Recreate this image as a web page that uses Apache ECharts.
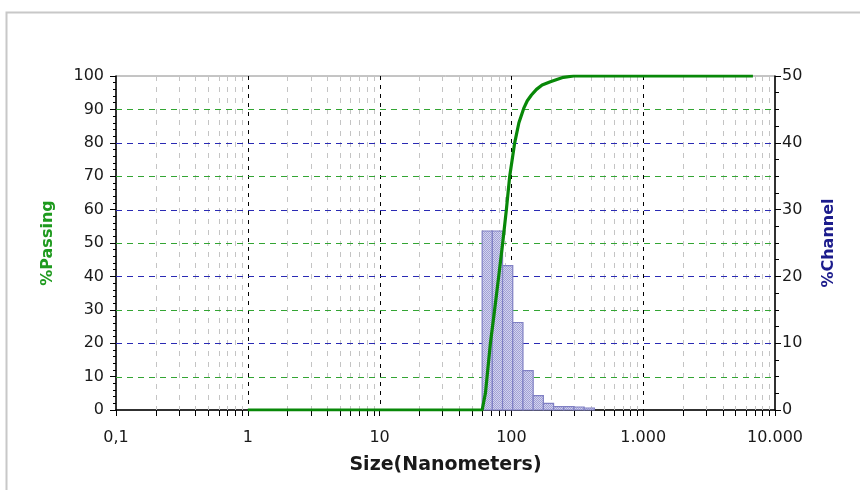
<!DOCTYPE html>
<html>
<head>
<meta charset="utf-8">
<script src="https://cdn.jsdelivr.net/npm/echarts@6/dist/echarts.min.js"></script>
<style>
  html, body { margin: 0; padding: 0; background: #fff; }
  #chart { width: 860px; height: 490px; }
</style>
</head>
<body>
<div id="chart"></div>
<script>
// histogram bins (nm) and %Channel heights
var binEdges = [60, 71.7, 85.7, 102.4, 122.4, 146.3, 174.8, 208.9, 249.6, 298.3, 356.5, 426];
var channelValues = [26.8, 26.8, 21.6, 13.1, 5.9, 2.15, 1.0, 0.5, 0.5, 0.45, 0.3];

// cumulative %Passing curve
var passSizes = [1, 60, 61, 63.5, 65.4, 69.3, 74.3, 80.1, 85.9, 91.6, 97.1, 105.9, 114, 124, 132, 141.9, 155, 171, 197.6, 248, 297, 6800];
var passValues = [0, 0, 0.5, 5, 10, 20, 29.4, 40, 50, 60, 70, 80, 86, 90.3, 92.6, 94.3, 96, 97.3, 98.3, 99.6, 100, 100];

var xTickLabels = ['0,1', '1', '10', '100', '1.000', '10.000'];
var decades = [0.1, 1, 10, 100, 1000];
var majorGridX = [1, 10, 100, 1000];
var minorSteps = [2, 3, 4, 5, 6, 7, 8, 9];
var gridY = [10, 20, 30, 40, 50, 60, 70, 80, 90];

var minorTicks = [];
decades.forEach(function (d) {
  minorSteps.forEach(function (m) {
    minorTicks.push([+(d * m).toPrecision(3), 0]);
  });
});

var bars = channelValues.map(function (v, i) {
  return [binEdges[i], binEdges[i + 1], v];
});
var passData = passSizes.map(function (s, i) { return [s, passValues[i]]; });

// dotted fill like the original hatch
var pat = document.createElement('canvas');
pat.width = 2; pat.height = 2;
var pctx = pat.getContext('2d');
pctx.fillStyle = '#d4d4ee';
pctx.fillRect(0, 0, 2, 2);
pctx.fillStyle = '#a0a0d6';
pctx.fillRect(0, 0, 1, 1);
pctx.fillRect(1, 1, 1, 1);

var chart = echarts.init(document.getElementById('chart'));
var FONT = 'DejaVu Sans, Verdana, sans-serif';
var labelFont = {color: '#1a1a1a', fontSize: 16, fontFamily: FONT};

function snap(v) { return Math.round(v) + 0.5; }

var option = {
  animation: false,
  graphic: [{
    type: 'rect',
    shape: {x: 6.5, y: 12.5, width: 900, height: 600},
    style: {fill: 'none', stroke: '#c8c8c8', lineWidth: 2},
    silent: true
  }],
  grid: {
    left: 116, right: 85, top: 76, bottom: 80,
    show: true, borderColor: '#8a8a8a', borderWidth: 1
  },
  xAxis: {
    type: 'log',
    logBase: 10,
    min: 0.1,
    max: 10000,
    name: 'Size(Nanometers)',
    nameLocation: 'middle',
    nameGap: 46,
    nameTextStyle: {color: '#1a1a1a', fontSize: 19, fontWeight: 'bold', fontFamily: FONT},
    axisLine: {lineStyle: {color: '#000', width: 1.5}},
    axisTick: {show: true, length: 6, lineStyle: {color: '#000'}},
    axisLabel: Object.assign({
      margin: 20,
      formatter: function (v, i) { return xTickLabels[i]; }
    }, labelFont),
    splitLine: {show: false},
    minorTick: {show: false},
    minorSplitLine: {show: false}
  },
  yAxis: [{
    type: 'value',
    min: 0, max: 100, interval: 10,
    name: '%Passing',
    nameLocation: 'middle',
    nameGap: 60,
    nameTextStyle: {color: '#1e9a1e', fontSize: 16, fontWeight: 'bold', fontFamily: FONT},
    axisLine: {show: true, lineStyle: {color: '#000', width: 1.5}},
    axisTick: {show: true, length: 6, lineStyle: {color: '#000'}},
    minorTick: {show: true, splitNumber: 5, length: 3, lineStyle: {color: '#000'}},
    axisLabel: Object.assign({margin: 12}, labelFont),
    splitLine: {show: false}
  }, {
    type: 'value',
    min: 0, max: 50, interval: 10,
    name: '%Channel',
    nameLocation: 'middle',
    nameGap: 46,
    nameTextStyle: {color: '#1c1c8c', fontSize: 16, fontWeight: 'bold', fontFamily: FONT},
    axisLine: {show: true, lineStyle: {color: '#000', width: 1.5}},
    axisTick: {show: true, length: 6, lineStyle: {color: '#000'}},
    minorTick: {show: true, splitNumber: 4, length: 4, lineStyle: {color: '#000'}},
    axisLabel: Object.assign({margin: 7}, labelFont),
    splitLine: {show: false}
  }],
  series: [{
    // vertical minor grid + x minor ticks
    type: 'custom',
    silent: true,
    clip: false,
    z: 1,
    data: minorTicks,
    renderItem: function (params, api) {
      var v = api.value(0);
      var top = api.coord([v, 100]);
      var bot = api.coord([v, 0]);
      var x = snap(top[0]);
      return {
        type: 'group',
        children: [{
          type: 'line',
          shape: {x1: x, y1: top[1], x2: x, y2: bot[1]},
          style: {stroke: '#c4c4c4', lineWidth: 1, lineDash: [5, 6]}
        }, {
          type: 'line',
          shape: {x1: x, y1: bot[1], x2: x, y2: bot[1] + 6},
          style: {stroke: '#000', lineWidth: 1}
        }]
      };
    }
  }, {
    // vertical major grid
    type: 'custom',
    silent: true,
    z: 1,
    data: majorGridX.map(function (v) { return [v, 0]; }),
    renderItem: function (params, api) {
      var v = api.value(0);
      var top = api.coord([v, 100]);
      var bot = api.coord([v, 0]);
      var x = snap(top[0]);
      return {
        type: 'line',
        shape: {x1: x, y1: top[1], x2: x, y2: bot[1]},
        style: {stroke: '#000', lineWidth: 1, lineDash: [4, 5]}
      };
    }
  }, {
    // horizontal grid, green for %Passing steps, blue where %Channel ticks fall
    type: 'custom',
    silent: true,
    z: 2,
    data: gridY.map(function (v) { return [0.1, v]; }),
    renderItem: function (params, api) {
      var v = api.value(1);
      var a = api.coord([0.1, v]);
      var b = api.coord([10000, v]);
      var y = snap(a[1]);
      var blue = (v / 10) % 2 === 0;
      return {
        type: 'line',
        shape: {x1: a[0], y1: y, x2: b[0], y2: y},
        style: {stroke: blue ? '#2a2ab4' : '#33a533', lineWidth: 1.2, lineDash: [6, 5]}
      };
    }
  }, {
    type: 'custom',
    name: '%Channel',
    yAxisIndex: 1,
    z: 3,
    data: bars,
    renderItem: function (params, api) {
      var p0 = api.coord([api.value(0), api.value(2)]);
      var p1 = api.coord([api.value(1), 0]);
      return {
        type: 'rect',
        shape: {x: p0[0], y: p0[1], width: p1[0] - p0[0], height: p1[1] - p0[1]},
        style: {fill: {image: pat, repeat: 'repeat'}, stroke: '#8080c4', lineWidth: 1.2}
      };
    }
  }, {
    type: 'line',
    name: '%Passing',
    yAxisIndex: 0,
    z: 5,
    data: passData,
    showSymbol: false,
    symbol: 'none',
    lineStyle: {color: '#088808', width: 3.2}
  }]
};
chart.setOption(option);
</script>
</body>
</html>
